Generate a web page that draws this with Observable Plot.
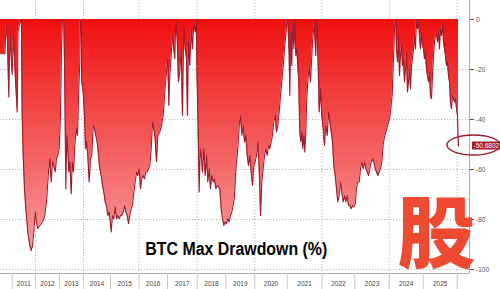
<!DOCTYPE html>
<html><head><meta charset="utf-8">
<script src="https://cdn.jsdelivr.net/npm/d3@7"></script>
<script src="https://cdn.jsdelivr.net/npm/@observablehq/plot@0.6"></script>
<style>html,body{margin:0;padding:0;background:#fff;} #chart{width:500px;height:289px;overflow:hidden;}</style>
</head><body><div id="chart"></div>
<script>
// decimal-year dates and BTC drawdown from running maximum (%)
const t = [
2010.5,2010.692,2010.735,2010.799,2010.855,2010.906,2011.0,2011.056,2011.142,2011.215,2011.249,2011.313,2011.378,2011.395,2011.429,2011.472,2011.528,2011.584,2011.670,2011.755,2011.815,2011.871,2011.927,2011.987,
2012.042,2012.096,2012.179,2012.292,2012.375,2012.458,2012.542,2012.596,2012.654,2012.708,2012.763,2012.821,2012.875,2012.929,2012.988,
2013.042,2013.083,2013.125,2013.179,2013.221,2013.263,2013.304,2013.346,2013.388,2013.429,2013.488,2013.529,2013.583,2013.638,2013.696,2013.75,2013.804,2013.846,2013.863,2013.904,2013.929,2013.988,
2014.037,2014.074,2014.111,2014.159,2014.211,2014.259,2014.307,2014.359,2014.407,2014.456,2014.507,2014.556,2014.604,2014.656,2014.704,2014.752,2014.804,2014.852,2014.9,2014.952,2015.0,
2015.025,2015.070,2015.116,2015.165,2015.211,2015.256,2015.305,2015.351,2015.396,2015.446,2015.491,2015.537,2015.586,2015.632,2015.677,2015.726,2015.772,2015.818,2015.867,2015.912,2015.958,
2016.007,2016.053,2016.098,2016.147,2016.193,2016.239,2016.288,2016.333,2016.379,2016.428,2016.474,2016.519,2016.568,2016.614,2016.660,2016.730,2016.789,2016.849,2016.905,2016.965,
2017.010,2017.044,2017.077,2017.125,2017.168,2017.212,2017.246,2017.279,2017.327,2017.370,2017.414,2017.461,2017.505,2017.549,2017.596,2017.640,2017.673,2017.707,2017.751,2017.798,2017.842,2017.886,2017.933,2017.966,
2018.000,2018.035,2018.070,2018.105,2018.140,2018.185,2018.231,2018.280,2018.325,2018.371,2018.420,2018.465,2018.510,2018.559,2018.605,2018.650,2018.699,2018.745,2018.790,2018.839,2018.885,2018.930,2018.979,
2019.024,2019.069,2019.117,2019.162,2019.207,2019.255,2019.300,2019.345,2019.414,2019.472,2019.507,2019.552,2019.600,2019.645,2019.690,2019.738,2019.783,2019.828,2019.876,2019.921,2019.966,
2020.012,2020.052,2020.093,2020.136,2020.176,2020.216,2020.259,2020.299,2020.340,2020.383,2020.423,2020.463,2020.506,2020.546,2020.586,2020.630,2020.670,2020.710,2020.753,2020.793,2020.833,2020.877,2020.917,2020.957,2020.988,
2021.017,2021.057,2021.075,2021.103,2021.132,2021.161,2021.190,2021.218,2021.247,2021.276,2021.305,2021.333,2021.362,2021.391,2021.420,2021.448,2021.477,2021.506,2021.534,2021.563,2021.592,2021.632,2021.670,2021.707,2021.727,2021.776,2021.822,2021.851,2021.879,2021.920,2021.957,2021.994,
2022.037,2022.076,2022.116,2022.159,2022.198,2022.238,2022.280,2022.320,2022.360,2022.402,2022.442,2022.482,2022.524,2022.564,2022.604,2022.646,2022.686,2022.726,2022.768,2022.808,2022.848,2022.890,2022.930,2022.970,
2023.012,2023.049,2023.087,2023.128,2023.165,2023.203,2023.243,2023.281,2023.319,2023.359,2023.397,2023.435,2023.475,2023.513,2023.551,2023.591,2023.629,2023.667,2023.707,2023.745,2023.783,2023.823,2023.861,2023.899,2023.939,2023.977,
2024.015,2024.035,2024.086,2024.133,2024.162,2024.192,2024.212,2024.242,2024.271,2024.301,2024.330,2024.360,2024.389,2024.419,2024.448,2024.478,2024.507,2024.537,2024.566,2024.596,2024.625,2024.655,2024.684,2024.714,2024.743,2024.773,2024.802,2024.832,2024.861,2024.891,2024.920,2024.950,2024.979,
2025.009,2025.038,2025.068,2025.097,2025.126,2025.156,2025.185,2025.215,2025.244,2025.274,2025.303,2025.332,2025.362,2025.391,2025.421,2025.450,2025.479,2025.509,2025.538,2025.568,2025.597,2025.626,2025.656,2025.685,2025.715,2025.744,2025.774,2025.803,2025.832,2025.862,2025.891,2025.921,2025.950,2025.979,2026.009,2026.038
];
const dd = [
-13.7,-13.7,-2,-8,-31,-5,-22,-6,-24,-37,-5,-2,0,0,-38.4,-54.4,-67.7,-75.7,-85,-90.4,-92.4,-90.4,-85,-77,
-81,-83.7,-82.4,-81,-79,-73,-61,-55.7,-65,-57,-58.4,-61,-55.7,-54.4,-51.7,
-38.4,-11.7,0,0,-25,-67.7,-46.4,-51.7,-61,-57,-69.7,-57,-61,-50.4,-43.7,-46.4,-27.7,-17,-1,0,-25,-29,
-38.4,-51.7,-49,-54.4,-65,-55.7,-54.4,-42.4,-43.7,-46.4,-49,-54.4,-59.7,-62.4,-66.4,-69,-73,-74.4,-78.4,-77,-81.7,
-85,-78.4,-79.7,-75,-79.7,-78.4,-79.7,-78.4,-78.4,-77,-74.4,-77,-78.4,-81.7,-78.4,-75.7,-74.4,-69,-65,-61,-62.4,
-59.7,-67.7,-63.7,-62.4,-63.7,-61,-61,-59.7,-58.4,-51.7,-41,-43.7,-47.7,-57,-46.4,-45,-42.4,-38.4,-29,-21,
-15.7,-34.4,-22.4,-14.4,-6.4,-11.7,-15.7,0,-7.7,-25,-21,-11.7,-38.4,-2.4,-11.7,-15.7,-38.4,-9,-18.4,-3.7,-11.7,-1,-5,0,
-25,-45,-69,-51.7,-54.4,-61,-51.7,-62.4,-54.4,-65,-59.7,-67.7,-62.4,-65,-63.7,-67.7,-66.4,-67,-67.7,-75.7,-79.7,-82.4,-81,
-81.7,-79.7,-81,-78.4,-77,-74.4,-71,-60,-51.7,-41,-38.4,-46.4,-42.4,-49,-46.4,-54.4,-58.4,-54.4,-61,-66.4,-58.4,
-57,-54.4,-49,-59.7,-78.4,-65,-59.7,-54.4,-51.7,-54.4,-50.4,-51.7,-49,-46.4,-41,-38.4,-45,-42.4,-37,-30.4,-25,-18.4,-11.7,-6.4,-1,
0,-14.4,-30.4,-5,-18.4,-1,-11.7,0,-14.4,-11.7,-18.4,-25,-45,-49,-45,-51.7,-46.4,-53,-45,-31.7,-25,-18.4,-25,-14.4,-9.4,-1,-14.4,0,-11.7,-37,-27.7,-38.4,
-43.7,-50.4,-42.4,-46.4,-37,-41,-45,-49,-58.4,-62.4,-67.7,-73,-70.4,-65,-69,-73,-70.4,-73,-70.4,-74.4,-74.4,-75.7,-74.4,-75,
-73.7,-67.7,-65,-65,-59.7,-57,-59.7,-57,-59.7,-61,-62.4,-59.7,-57,-55.7,-57,-59.7,-61,-62.4,-61,-59.7,-57,-50,-47,-45,-43,-41,
-39,-37,-30,-12,-1,0,-11.7,-17,-6.4,-22.4,-14.4,-10.4,-18.4,-15.7,-25,-19.7,-13,-29,-25,-19.7,-27.7,-18.4,-15.7,-11.7,-6.4,-11.7,0,-3.7,0,-6.4,-11.7,-5,-10.4,
-11.7,-15.7,-13,-19.7,-22.4,-25,-21,-30.4,-31.7,-22.4,-14.4,-9,-6.4,-5,-9,-3.7,-11.7,-3.7,-6.4,-1,-9,-11.7,-14.4,-18.4,-17,-22.4,-25,-33,-35.7,-30.4,-31.7,-33,-31.7,-35.7,-38.4,-50.6802
];
const yearLabels = [2011,2012,2013,2014,2015,2016,2017,2018,2019,2020,2021,2022,2023,2024,2025];
const yearBounds = [2011,2012,2013,2014,2015,2016,2017,2018,2019,2020,2021,2022,2023,2024,2025,2026];
const gridYears = [2012,2014,2016,2018,2020,2022,2024,2026];
const yTicks = [0,-20,-40,-60,-80,-100];
const lastValue = -50.6802;
const title = "BTC Max Drawdown (%)";
const watermark = "股";

const data = t.map((d, i) => ({t: d, v: dd[i]}));
const xDomain = [2010.5, ...yearBounds, 2026.36];
const yDomain = [-101.6, 7.6];

const gradientDefs = (index, scales) => {
  const defs = d3.create("svg:defs");
  const lg = defs.append("linearGradient").attr("id", "ddGrad")
    .attr("gradientUnits", "userSpaceOnUse")
    .attr("x1", 0).attr("x2", 0)
    .attr("y1", scales.y(0)).attr("y2", scales.y(-100));
  lg.append("stop").attr("offset", 0).attr("stop-color", "#ef0f0f");
  lg.append("stop").attr("offset", 1).attr("stop-color", "#f8a8a8");
  return defs.node();
};

const endLabel = (index, scales, values, dims) => {
  const g = d3.create("svg:g");
  const xr = dims.width - dims.marginRight;
  const yv = scales.y(lastValue);
  g.append("ellipse").attr("cx", xr + 4.5).attr("cy", yv - 0.7).attr("rx", 26.5).attr("ry", 10)
    .attr("fill", "none").attr("stroke", "#9b1b2b").attr("stroke-width", 1.4);
  g.append("rect").attr("x", xr + 3).attr("y", yv - 4.2).attr("width", 29).attr("height", 8)
    .attr("fill", "#a8192d");
  g.append("text").attr("x", xr + 4.5).attr("y", yv).attr("dy", "0.35em")
    .attr("text-anchor", "start")
    .attr("font-size", 6.5).attr("fill", "#fff").text(lastValue.toFixed(4));
  return g.node();
};

const chart = Plot.plot({
  width: 500, height: 289,
  marginLeft: 0, marginRight: 31, marginTop: 0, marginBottom: 16,
  style: {background: "#fff", fontFamily: "'Liberation Sans', Arial, sans-serif"},
  x: {type: "linear", domain: xDomain, label: null,
      range: [0, 11.7, 35, 59, 83, 110, 138.5, 167, 196.7, 225.3, 254.3, 286.7, 321.5, 354.3, 388.8, 422.7, 456.7, 469]},
  y: {type: "linear", domain: yDomain, label: null},
  marks: [
    Plot.ruleY(yTicks.filter(d => d < 0), {x1: xDomain[0], x2: xDomain[xDomain.length - 1], stroke: "#b8b8b8", strokeDasharray: "1.2,1.8"}),
    Plot.ruleX(gridYears, {y1: yDomain[1], y2: yDomain[0], stroke: "#b8b8b8", strokeDasharray: "1.2,1.8"}),
    gradientDefs,
    Plot.areaY(data, {x: "t", y: "v", fill: "url(#ddGrad)"}),
    Plot.lineY(data, {x: "t", y: "v", stroke: "#9e1a2c", strokeWidth: 1.1}),
    Plot.ruleY([yDomain[0]], {stroke: "#b0b0b0"}),
    Plot.ruleX([xDomain[xDomain.length - 1]], {stroke: "#a8a8a8"}),
    Plot.axisY({anchor: "right", label: null, ticks: yTicks, tickSize: 4, tickPadding: 2.5, fontSize: 6.5, tickFormat: d => String(d), color: "#555"}),
    Plot.axisX({anchor: "bottom", label: null, ticks: yearBounds, tickSize: 16, tickFormat: () => "", stroke: "#c8c8c8"}),
    Plot.text(yearLabels, {x: d => d + 0.5, text: d => String(d), frameAnchor: "bottom", dy: 12.5, fontSize: 6.5, fill: "#444"}),
    Plot.text([title], {text: d => d, frameAnchor: "bottom", dx: 1.3, dy: -19, fontSize: 17.5, fontWeight: "bold", fill: "#000"}),
    endLabel,
    Plot.text([watermark], {text: d => d, frameAnchor: "bottom-right", dx: -33, dy: -12, textAnchor: "middle",
      fontSize: 78, fontWeight: 900, fill: "#ee4a32", fontFamily: "'Noto Sans CJK SC', sans-serif"})
  ]
});

d3.select(chart).selectAll("text").filter(function() { return this.textContent === title; })
  .attr("textLength", 182).attr("lengthAdjust", "spacingAndGlyphs");
document.getElementById("chart").appendChild(chart);
</script>
</body></html>
